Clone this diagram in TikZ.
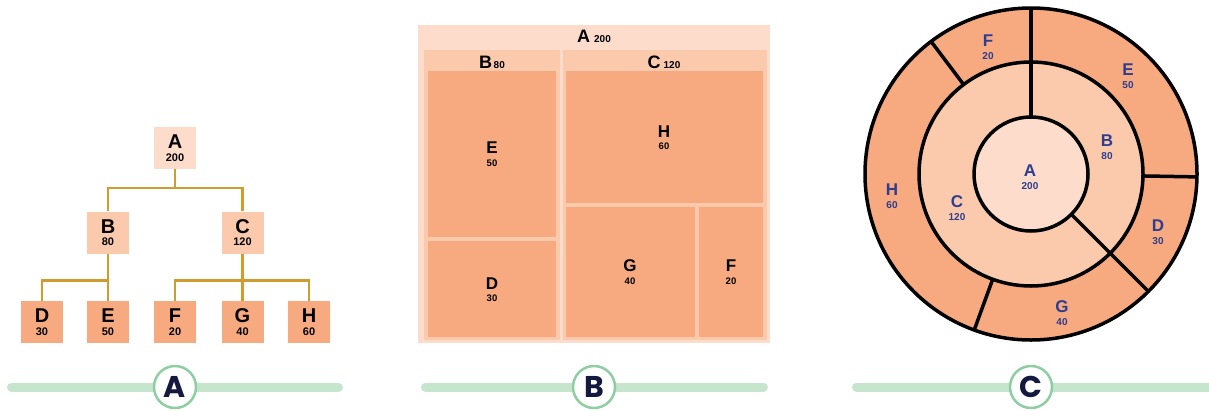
\documentclass[tikz,border=0pt]{standalone}
\usepackage{fontspec}
\setmainfont{Liberation Sans}
\newfontfamily\badgefont{Poppins}
\usepackage{xcolor}
\usetikzlibrary{shadows}
\definecolor{pA}{HTML}{FDDCCB}
\definecolor{pB}{HTML}{FBCAAD}
\definecolor{pL}{HTML}{F7AA7F}
\definecolor{gold}{HTML}{D09C30}
\definecolor{ink}{HTML}{2E3D8E}
\definecolor{mint}{HTML}{C5E5CD}
\definecolor{mintdk}{HTML}{8FCEA2}
\definecolor{navy}{HTML}{15183F}
\newcommand{\lab}[4]{{\fontsize{#3}{#3}\selectfont #1}\\{\fontsize{#4}{#4}\selectfont #2}}

\begin{document}
\begin{tikzpicture}[x=1pt,y=-1pt,
  tbox/.style={minimum size=42pt,inner sep=0pt,align=center,font=\bfseries\fontsize{11}{12.5}\selectfont},
  link/.style={gold,line width=2.5pt},
  mtxt/.style={inner sep=0pt,align=center,font=\bfseries\fontsize{9}{12.5}\selectfont},
  stxt/.style={inner sep=0pt,align=center,text=ink,font=\bfseries\fontsize{10}{12.5}\selectfont},
  ring/.style={line width=3.5pt,black},
  bar/.style={mint,line width=9pt,line cap=round},
  badge/.style={circle,fill=white,draw=mintdk,line width=2.5pt,minimum size=42pt,inner sep=0pt,
    text=navy,font=\badgefont\bfseries\fontsize{30}{30}\selectfont,
    drop shadow={opacity=0.25,shadow xshift=0pt,shadow yshift=-1pt}}]
\useasboundingbox (0,0) rectangle (1209,410);

% tree
\node[tbox,fill=pA] (tA) at (175,148) {\lab{A}{200}{20}{11}};
\node[tbox,fill=pB] (tB) at (108,232.5) {\lab{B}{80}{20}{11}};
\node[tbox,fill=pB] (tC) at (242.5,232.5) {\lab{C}{120}{20}{11}};
\node[tbox,fill=pL] (tD) at (42,322) {\lab{D}{30}{20}{11}};
\node[tbox,fill=pL] (tE) at (108,322) {\lab{E}{50}{20}{11}};
\node[tbox,fill=pL] (tF) at (175,322) {\lab{F}{20}{20}{11}};
\node[tbox,fill=pL] (tG) at (242.5,322) {\lab{G}{40}{20}{11}};
\node[tbox,fill=pL] (tH) at (309,322) {\lab{H}{60}{20}{11}};
\draw[link] (tA.south) -- ++(0,19) -| (tB.north);
\draw[link] (tA.south) -- ++(0,19) -| (tC.north);
\draw[link] (tB.south) -- ++(0,27) -| (tD.north);
\draw[link] (tB.south) -- (tE.north);
\draw[link] (tC.south) -- ++(0,27) -| (tF.north);
\draw[link] (tC.south) -- (tG.north);
\draw[link] (tC.south) -- ++(0,27) -| (tH.north);

% treemap
\fill[pA] (418,25) rectangle (770,343);
\fill[pB] (424,50) rectangle (560,340);
\fill[pB] (563,50) rectangle (767,340);
\fill[pL] (428,71) rectangle (556,237);
\fill[pL] (428,241) rectangle (556,337);
\fill[pL] (566,71) rectangle (763,203);
\fill[pL] (566,207) rectangle (695,337);
\fill[pL] (699,207) rectangle (763,337);
\node[mtxt] (mA) at (594,36) {{\fontsize{18}{18}\selectfont A}\hspace{4pt}{\fontsize{10}{10}\selectfont 200}};
\node[mtxt] (mB) at (492,62) {{\fontsize{18}{18}\selectfont B}\hspace{1.5pt}{\fontsize{10}{10}\selectfont 80}};
\node[mtxt] (mC) at (664,62) {{\fontsize{18}{18}\selectfont C}\hspace{3pt}{\fontsize{10}{10}\selectfont 120}};
\node[mtxt] (mE) at (492,154) {\lab{E}{50}{17}{9.5}};
\node[mtxt] (mD) at (492,289.5) {\lab{D}{30}{17}{9.5}};
\node[mtxt] (mH) at (664,137.5) {\lab{H}{60}{17}{9.5}};
\node[mtxt] (mG) at (630,272) {\lab{G}{40}{17}{9.5}};
\node[mtxt] (mF) at (731,272) {\lab{F}{20}{17}{9.5}};

% sunburst
\begin{scope}[shift={(1031,174)},yscale=-1]
\fill[pL] (0,0) circle (166);
\fill[pB] (0,0) circle (112);
\fill[pA] (0,0) circle (57);
\draw[ring] (0,0) circle (166) (0,0) circle (112) (0,0) circle (57);
\draw[ring] (90:57) -- (90:166);
\draw[ring] (-45:57) -- (-45:166);
\draw[ring] (-1:112) -- (-1:166);
\draw[ring] (127:112) -- (127:166);
\draw[ring] (250:112) -- (250:166);
\end{scope}
\node[stxt] (sA) at (1030,177) {\lab{A}{200}{17}{10}};
\node[stxt] (sB) at (1107,147) {\lab{B}{80}{17}{10}};
\node[stxt] (sC) at (957,208) {\lab{C}{120}{17}{10}};
\node[stxt] (sE) at (1128,76) {\lab{E}{50}{17}{10}};
\node[stxt] (sD) at (1158,232) {\lab{D}{30}{17}{10}};
\node[stxt] (sG) at (1062,313) {\lab{G}{40}{17}{10}};
\node[stxt] (sH) at (892,196) {\lab{H}{60}{17}{10}};
\node[stxt] (sF) at (988,47) {\lab{F}{20}{17}{10}};

% captions
\coordinate (barAl) at (11.5,387);
\coordinate (barAr) at (338.5,387);
\coordinate (barBl) at (425.5,387);
\coordinate (barBr) at (763.5,387);
\coordinate (barCl) at (856.5,387);
\coordinate (barCr) at (1215,387);
\draw[bar] (barAl) -- (barAr);
\draw[bar] (barBl) -- (barBr);
\draw[bar] (barCl) -- (barCr);
\node[badge] (bA) at (175,387) {A};
\node[badge] (bB) at (594,387) {B};
\node[badge] (bC) at (1031,387) {C};
\end{tikzpicture}
\end{document}
